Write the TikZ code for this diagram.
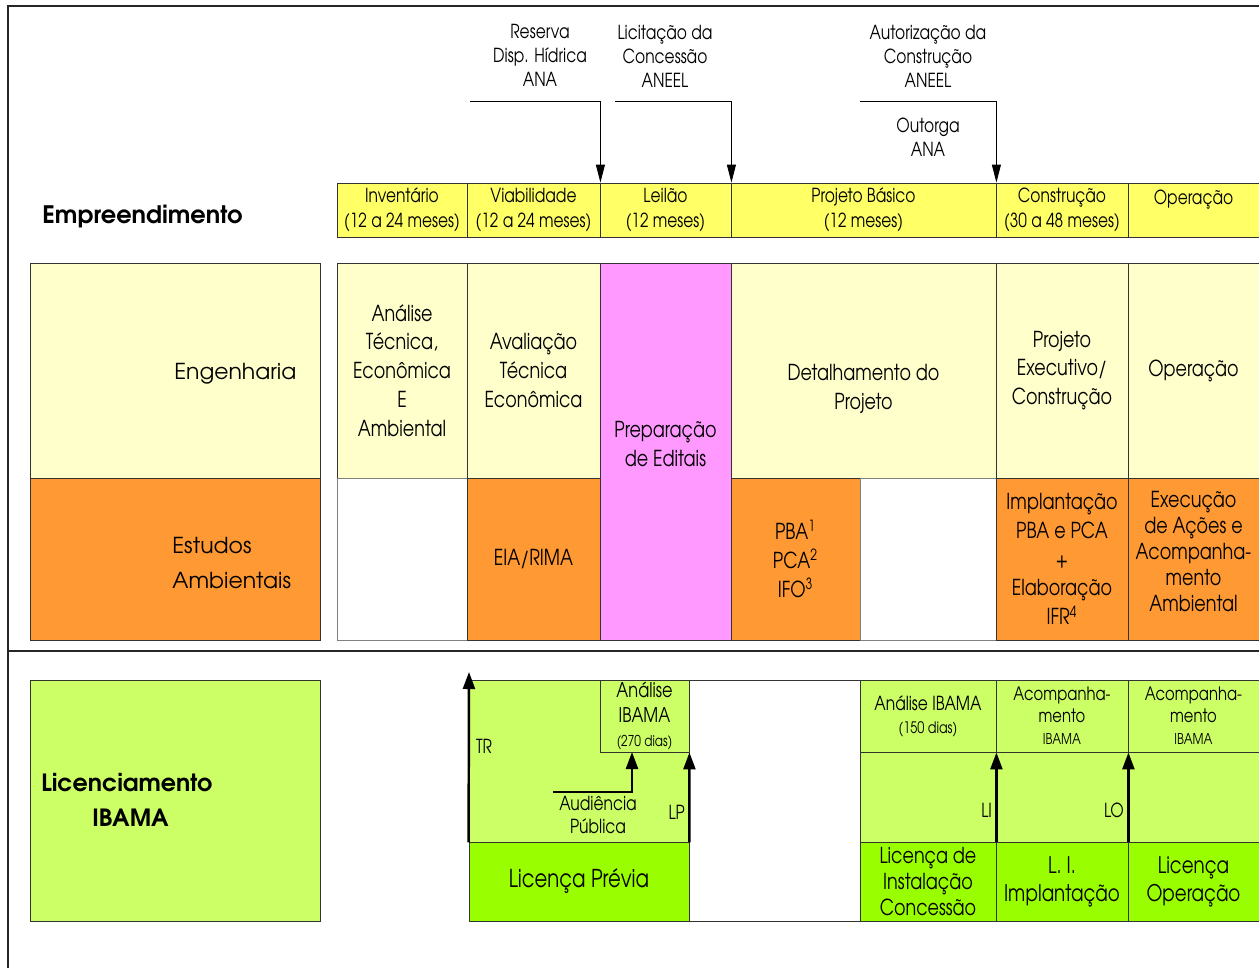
\documentclass[tikz,border=0pt]{standalone}
\usepackage{fontspec}
\setmainfont{TeX Gyre Adventor}
\newfontfamily\narrowfont{TeX Gyre Adventor}[FakeStretch=0.8]
\usetikzlibrary{arrows.meta}
\definecolor{baryellow}{HTML}{FFFF66}
\definecolor{cream}{HTML}{FFFFCC}
\definecolor{envorange}{HTML}{FF9933}
\definecolor{editpink}{HTML}{FF99FF}
\definecolor{licgreen}{HTML}{CCFF66}
\definecolor{lpgreen}{HTML}{99FF00}

\begin{document}
\begin{tikzpicture}
	[x=0.02cm, y=-0.02cm,
	cell/.style={draw=black!80, line width=0.5pt, inner sep=0pt, align=center,
		font=\narrowfont\fontsize{12.5}{16.4}\selectfont},
	phase/.style={cell, fill=baryellow, minimum height=1.08cm,
		font=\narrowfont\fontsize{11}{14}\selectfont},
	small/.style={cell, font=\narrowfont\fontsize{11}{13}\selectfont},
	note/.style={inner sep=1pt, align=center, font=\narrowfont\fontsize{11}{13.6}\selectfont},
	head/.style={inner sep=0pt, align=left, font=\fontsize{12.5}{20}\selectfont},
	arr/.style={line width=0.5pt, -{Triangle[length=0.36cm,width=0.18cm]}},
	lic/.style={line width=1.4pt, -{Triangle[length=0.34cm,width=0.24cm]}}]
	\useasboundingbox (0,0) rectangle (1259,968);
	\fill[white] (0,0) rectangle (1259,968);
	
	% frame
	\draw[line width=1.2pt, black!85] (8,968) -- (8,6) -- (1259,6);
	\draw[line width=1.2pt, black!85] (8,651) -- (1259,651);
	
	% phases
	\node[head, font=\bfseries\fontsize{13.7}{15}\selectfont, anchor=west] (emp) at (42,216) {Empreendimento};
	\node[phase, minimum width=2.6cm] (inv) at (402,210) {Inventário\\(12 a 24 meses)};
	\node[phase, minimum width=2.66cm] (via) at (533.5,210) {Viabilidade\\(12 a 24 meses)};
	\node[phase, minimum width=2.62cm] (lei) at (665.5,210) {Leilão\\(12 meses)};
	\node[phase, minimum width=5.3cm] (pb) at (863.5,210) {Projeto Básico\\(12 meses)};
	\node[phase, minimum width=2.64cm] (con) at (1062,210) {Construção\\(30 a 48 meses)};
	\node[phase, minimum width=2.62cm] (ope) at (1193.5,210) {Operação\\\mbox{}};
	
	\node[note] (res) at (540,55) {Reserva\\Disp. Hídrica\\ANA};
	\node[note] (lct) at (665,56) {Licitação da\\Concessão\\ANEEL};
	\node[note] (aut) at (928,56) {Autorização da\\Construção\\ANEEL};
	\node[note] (out) at (928,137) {Outorga\\ANA};
	\coordinate (resL) at (470,101);
	\coordinate (lctL) at (615,101);
	\coordinate (autL) at (860,101);
	\foreach \a/\b in {resL/via,lctL/lei,autL/pb}
	\draw[arr] (\a) -| (\b.north east);
	
	% engenharia / estudos ambientais
	\node[cell, fill=cream, minimum width=5.8cm, minimum height=4.3cm] (eng) at (175,370.5) {};
	\node[cell, fill=envorange, minimum width=5.8cm, minimum height=3.24cm] (est) at (175,559) {};
	\node[head, anchor=west] (engt) at (174,374) {Engenharia};
	\node[head, anchor=west] (estt) at (172,563) {Estudos\\Ambientais};
	
	\node[cell, fill=cream, minimum width=2.6cm, minimum height=4.3cm] (ate) at (402,370.5) {Análise\\Técnica,\\Econômica\\E\\Ambiental};
	\node[cell, fill=cream, minimum width=2.66cm, minimum height=4.3cm] (ava) at (533.5,370.5) {Avaliação\\Técnica\\Econômica};
	\node[cell, fill=editpink, minimum width=2.62cm, minimum height=7.54cm] (edt) at (665.5,451.5) {Preparação\\de Editais\\[-8pt]};
	\node[cell, fill=cream, minimum width=5.3cm, minimum height=4.3cm] (det) at (863.5,370.5) {\mbox{}\\[14pt]Detalhamento do\\Projeto};
	\node[cell, fill=cream, minimum width=2.64cm, minimum height=4.3cm] (pex) at (1062,370.5) {Projeto\\Executivo/\\Construção};
	\node[cell, fill=cream, minimum width=2.62cm, minimum height=4.3cm] (opr) at (1193.5,370.5) {Operação};
	
	\node[cell, draw=black!50, fill=white, minimum width=2.6cm, minimum height=3.24cm] (wa) at (402,559) {};
	\node[cell, fill=envorange, minimum width=2.66cm, minimum height=3.24cm] (eia) at (533.5,559) {EIA/RIMA};
	\node[cell, fill=envorange, minimum width=2.58cm, minimum height=3.24cm] (pba) at (795.5,559) {PBA\textsuperscript{1}\\PCA\textsuperscript{2}\\IFO\textsuperscript{3}};
	\node[cell, draw=black!50, fill=white, minimum width=2.72cm, minimum height=3.24cm] (wb) at (928,559) {};
	\node[cell, fill=envorange, minimum width=2.64cm, minimum height=3.24cm] (imp) at (1062,559) {Implantação\\PBA e PCA\\+\\Elaboração\\IFR\textsuperscript{4}};
	\node[cell, fill=envorange, minimum width=2.62cm, minimum height=3.24cm, font=\narrowfont\fontsize{12.5}{14.8}\selectfont] (exe) at (1193.5,559) {Execução\\de Ações e\\Acompanha-\\mento\\Ambiental\\[-6pt]};
	
	% licenciamento
	\node[cell, fill=licgreen, minimum width=5.8cm, minimum height=4.82cm] (lcb) at (175,800.5) {};
	\node[head, font=\bfseries\fontsize{13.5}{19.8}\selectfont, anchor=west] (lct2) at (41,799.5) {Licenciamento\\\hspace{29pt}IBAMA};
	
	\node[cell, fill=white, minimum width=3.42cm, minimum height=4.82cm] (wc) at (774.5,800.5) {};
	\node[cell, fill=licgreen, minimum width=4.4cm, minimum height=3.24cm] (pre) at (579,761) {};
	\node[cell, fill=lpgreen, minimum width=4.4cm, minimum height=1.58cm, font=\narrowfont\fontsize{14}{16}\selectfont] (lpv) at (579,881.5) {Licença Prévia};
	\node[small, fill=licgreen, minimum width=1.78cm, minimum height=1.44cm, font=\narrowfont\fontsize{11.5}{14}\selectfont] (a270) at (644.5,716) {Análise\\IBAMA\\{\fontsize{8.5}{11}\selectfont(270 dias)}};
	
	\node[cell, fill=licgreen, minimum width=7.98cm, minimum height=1.8cm] (mid) at (1059.5,797) {};
	\node[small, fill=licgreen, minimum width=2.72cm, minimum height=1.44cm] (a150) at (928,716) {Análise IBAMA\\{\fontsize{9}{14}\selectfont(150 dias)}};
	\node[small, fill=licgreen, minimum width=2.64cm, minimum height=1.44cm, font=\narrowfont\fontsize{10.5}{12.5}\selectfont] (ac1) at (1062,716) {Acompanha-\\mento\\{\fontsize{8.5}{11}\selectfont IBAMA}};
	\node[small, fill=licgreen, minimum width=2.62cm, minimum height=1.44cm, font=\narrowfont\fontsize{10.5}{12.5}\selectfont] (ac2) at (1193.5,716) {Acompanha-\\mento\\{\fontsize{8.5}{11}\selectfont IBAMA}};
	\node[cell, fill=lpgreen, minimum width=2.72cm, minimum height=1.58cm, font=\narrowfont\fontsize{12.5}{14.8}\selectfont] (lin) at (928,881.5) {Licença de\\Instalação\\Concessão};
	\node[cell, fill=lpgreen, minimum width=2.64cm, minimum height=1.58cm, font=\narrowfont\fontsize{13}{16}\selectfont] (lim) at (1062,881.5) {L. I.\\Implantação};
	\node[cell, fill=lpgreen, minimum width=2.62cm, minimum height=1.58cm, font=\narrowfont\fontsize{13}{16}\selectfont] (lop) at (1193.5,881.5) {Licença\\Operação};
	
	\coordinate (trT) at (469,672);
	\coordinate (audL) at (553,792);
	\coordinate (audT) at (632,752);
	\draw[lic] (pre.south west) -- (trT);
	\draw[lic] (audL) -| (audT);
	\draw[lic] (pre.south east) -- (a270.south east);
	\draw[lic] (lin.north east) -- (a150.south east);
	\draw[lic] (lim.north east) -- (ac1.south east);
	
	\node[note, anchor=west] (tr) at (474,746) {TR};
	\node[note] (aud) at (598,815) {Audiência\\Pública};
	\node[note, anchor=east] (lp) at (687,812) {LP};
	\node[note, anchor=east] (li) at (994,810) {LI};
	\node[note, anchor=east] (lo) at (1126,810) {LO};
\end{tikzpicture}
\end{document}
